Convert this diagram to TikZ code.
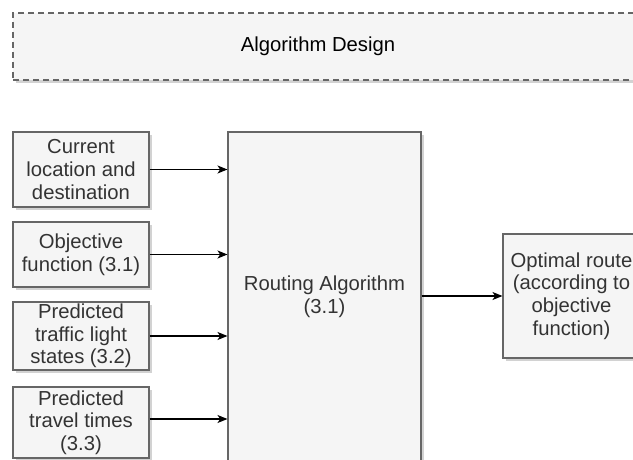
\documentclass[tikz,border=0pt]{standalone}
\usepackage{fontspec}
\setmainfont{Liberation Sans}
\usetikzlibrary{arrows.meta,shadows}
\definecolor{boxfill}{HTML}{F5F5F5}
\definecolor{boxline}{HTML}{666666}
\definecolor{boxtext}{HTML}{333333}

\begin{document}
\begin{tikzpicture}[x=0.75pt,y=-0.75pt,
  font=\fontsize{15.2}{16.9}\selectfont,
  box/.style={rectangle,draw=boxline,fill=boxfill,line width=0.8pt,text=boxtext,
    align=center,inner sep=0pt,
    drop shadow={shadow xshift=2pt,shadow yshift=-2.2pt,fill=black!35,draw=none}},
  arr/.style={-{Stealth[length=7.5pt,width=6pt,inset=2pt]},line width=0.8pt,black}]
\useasboundingbox (0,0) rectangle (633,460);
\clip (0,0) rectangle (633,460);
% design frame
\node[box,dashed,dash pattern=on 4.5pt off 3pt,line width=1pt,minimum width=470.25pt,minimum height=50.25pt] (design) at (326.5,46.5) {};
\node[text=black] (designlabel) at (318,46.5) {Algorithm Design};
% inputs
\node[box,minimum width=102pt,minimum height=56.25pt] (loc) at (81,169.5) {Current\\location and\\destination};
\node[box,minimum width=102pt,minimum height=48.75pt] (obj) at (81,254.5) {Objective\\function (3.1)};
\node[box,minimum width=102pt,minimum height=51pt] (light) at (81,336) {Predicted\\traffic light\\states (3.2)};
\node[box,minimum width=102pt,minimum height=53.25pt] (travel) at (81,422.5) {Predicted\\travel times\\(3.3)};
% routing and output
\node[box,minimum width=144.75pt,minimum height=246.75pt] (route) at (324.5,296.5) {Routing Algorithm\\(3.1)};
\node[box,minimum width=102.75pt,minimum height=93pt] (route out) at (571.5,296) {Optimal route\\(according to\\objective\\function)};
\draw[arr] (loc.east) -- (loc.east -| route.west);
\draw[arr] (obj.east) -- (obj.east -| route.west);
\draw[arr] (light.east) -- (light.east -| route.west);
\draw[arr] (travel.east) ++(0,-3.5) coordinate (travelout) -- (travelout -| route.west);
\draw[arr] (route.east |- route out.west) -- (route out.west);
\end{tikzpicture}
\end{document}
